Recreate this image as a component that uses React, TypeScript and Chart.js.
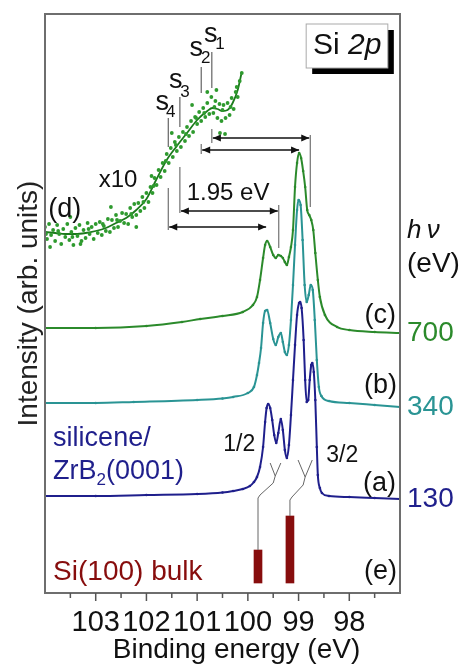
import React, { useEffect, useRef } from 'react';
import { Chart, registerables } from 'chart.js';

Chart.register(...registerables);

const FONT = '"Liberation Sans", Arial, Helvetica, sans-serif';

// ---------- data (binding energy in eV, intensity in arb. units) ----------
// (a) silicene/ZrB2, hv = 130 eV
const curveA: [number, number][] = [
  [104.0, 9.7], [103.0, 9.7], [102.0, 9.8], [101.0, 9.9], [100.5, 10.05], [100.29, 10.2],
  [100.1, 10.4], [99.96, 10.7], [99.88, 11.1], [99.82, 11.6], [99.76, 12.6], [99.7, 14.6],
  [99.66, 17.1], [99.63, 18.5], [99.6, 18.9], [99.56, 18.5], [99.52, 17.3], [99.48, 15.8],
  [99.44, 15.0], [99.4, 16.0], [99.35, 17.4], [99.31, 16.3], [99.27, 14.3], [99.23, 13.5],
  [99.19, 14.8], [99.15, 17.8], [99.11, 21.3], [99.07, 24.8], [99.03, 27.8], [98.99, 29.0],
  [98.97, 29.1], [98.94, 28.5], [98.9, 25.3], [98.87, 21.3], [98.84, 19.1], [98.81, 19.3],
  [98.78, 21.3], [98.75, 22.8], [98.73, 23.0], [98.7, 22.1], [98.67, 19.3], [98.64, 14.6],
  [98.62, 11.8], [98.58, 10.5], [98.54, 10.0], [98.4, 9.7], [98.0, 9.6], [97.5, 9.5], [97.0, 9.4],
];
// (b) hv = 340 eV
const curveB: [number, number][] = [
  [104.0, 19.0], [103.0, 19.0], [102.25, 19.1], [101.0, 19.3], [100.5, 19.45], [100.29, 19.6],
  [100.0, 20.0], [99.88, 20.6], [99.82, 21.8], [99.78, 23.0], [99.74, 24.5], [99.7, 27.0],
  [99.66, 28.2], [99.62, 28.3], [99.56, 27.0], [99.5, 25.4], [99.45, 24.8], [99.4, 25.6],
  [99.35, 26.0], [99.31, 25.1], [99.27, 24.1], [99.23, 23.8], [99.19, 24.8], [99.15, 27.3],
  [99.11, 30.8], [99.07, 34.8], [99.03, 38.3], [99.0, 39.3], [98.96, 38.8], [98.92, 35.3],
  [98.88, 30.8], [98.84, 29.1], [98.8, 29.8], [98.76, 30.8], [98.72, 30.3], [98.68, 27.3],
  [98.64, 23.3], [98.6, 20.6], [98.55, 19.7], [98.4, 19.2], [98.0, 19.0], [97.5, 18.8], [97.0, 18.6],
];
// (c) hv = 700 eV
const curveC: [number, number][] = [
  [104.0, 26.5], [103.0, 26.5], [102.0, 26.7], [101.3, 27.1], [100.94, 27.4], [100.5, 27.7],
  [100.1, 28.1], [99.9, 28.8], [99.82, 29.6], [99.76, 31.3], [99.7, 33.5], [99.66, 34.8],
  [99.62, 35.2], [99.56, 34.6], [99.5, 33.8], [99.45, 33.5], [99.4, 33.8], [99.35, 33.7],
  [99.31, 33.5], [99.27, 33.1], [99.23, 32.8], [99.19, 33.6], [99.15, 34.6], [99.11, 36.3],
  [99.07, 40.6], [99.03, 43.0], [98.99, 44.0], [98.95, 43.5], [98.91, 42.2], [98.87, 40.6],
  [98.83, 38.3], [98.79, 37.8], [98.75, 37.3], [98.71, 36.3], [98.67, 34.0], [98.62, 31.3],
  [98.58, 29.6], [98.48, 27.8], [98.24, 26.6], [98.0, 26.3], [97.5, 26.1], [97.0, 26.0],
];
// (d) x10 magnified high-binding-energy tail of (c): fitted line
const fitD: [number, number][] = [
  [104.0, 36.1], [103.8, 36.0], [103.6, 35.9], [103.4, 35.9], [103.2, 36.0], [103.0, 36.2],
  [102.8, 36.5], [102.6, 37.0], [102.4, 37.5], [102.2, 38.3], [102.0, 39.4], [101.8, 41.4],
  [101.6, 43.3], [101.4, 44.7], [101.2, 46.0], [101.0, 47.3], [100.8, 48.2], [100.7, 48.5],
  [100.6, 48.4], [100.5, 48.2], [100.4, 48.3], [100.3, 49.0], [100.2, 50.3], [100.12, 52.1],
];
// (d) measured points
const dotsD: [number, number][] = [
  [104.0, 36.6], [103.96, 35.4], [103.92, 36.9], [103.88, 35.8], [103.84, 36.3], [103.8, 35.2],
  [103.76, 36.8], [103.72, 35.9], [103.68, 34.9], [103.64, 36.4], [103.6, 35.6], [103.56, 36.9],
  [103.52, 35.3], [103.48, 36.1], [103.44, 34.8], [103.4, 36.5], [103.36, 35.7], [103.32, 36.8],
  [103.28, 35.2], [103.24, 36.3], [103.2, 35.5], [103.16, 37.0], [103.12, 35.9], [103.08, 36.6],
  [103.04, 35.4], [103.0, 36.9], [102.96, 36.0], [102.92, 37.1], [102.88, 35.8], [102.84, 36.7],
  [102.8, 36.2], [102.76, 37.4], [102.72, 36.1], [102.68, 37.3], [102.64, 36.5], [102.6, 37.8],
  [102.56, 36.6], [102.52, 37.2], [102.48, 38.0], [102.44, 37.0], [102.4, 37.9], [102.36, 36.9],
  [102.32, 38.5], [102.28, 37.6], [102.24, 38.9], [102.2, 37.8], [102.16, 39.0], [102.12, 38.2],
  [102.08, 39.6], [102.04, 38.5], [102.0, 40.0], [101.96, 39.1], [101.92, 40.6], [101.88, 40.0],
  [101.84, 41.5], [101.8, 40.8], [101.76, 42.3], [101.72, 41.6], [101.68, 43.0], [101.64, 42.2],
  [101.6, 43.9], [101.56, 43.0], [101.52, 44.5], [101.48, 43.6], [101.44, 45.1], [101.4, 44.2],
  [101.36, 45.6], [101.32, 44.6], [101.28, 46.1], [101.24, 45.2], [101.2, 46.6], [101.16, 45.7],
  [101.12, 47.2], [101.08, 46.1], [101.04, 47.6], [101.0, 46.9], [100.96, 48.1], [100.92, 47.2],
  [100.88, 48.5], [100.84, 47.6], [100.8, 49.0], [100.76, 47.9], [100.72, 49.6], [100.68, 48.0],
  [100.64, 49.2], [100.6, 47.5], [100.56, 48.9], [100.52, 47.2], [100.48, 48.8], [100.44, 47.5],
  [100.4, 49.0], [100.36, 47.8], [100.32, 49.5], [100.28, 48.4], [100.24, 50.1], [100.2, 49.6],
  [100.16, 51.2], [100.12, 52.0],
  [100.55, 46.0], [100.45, 45.9], [100.62, 50.3], [101.1, 48.8], [102.7, 38.6], [103.5, 37.6],
  [103.9, 34.6], [100.8, 50.1], [101.5, 46.0], [102.2, 36.6], [103.3, 34.9], [101.9, 41.7],
  [103.98, 35.9], [103.74, 36.2], [103.46, 35.6], [103.14, 36.4], [102.86, 36.9], [102.58, 37.3],
  [102.3, 37.9], [102.06, 39.1], [101.86, 40.7], [101.62, 43.2], [101.42, 44.8], [101.22, 45.9],
  [101.02, 47.5], [100.86, 48.0], [100.66, 48.6], [100.5, 48.3], [100.34, 48.6], [100.22, 50.6],
];
// (e) Si(100) bulk reference components: energy, top intensity
const bulkEnergies = [99.8, 99.17];
const bulkTops = [4.3, 7.7];
const bulkBase = 1.0;

const xTickLabels = [98, 99, 100, 101, 102, 103];
const photonEnergies = ['700', '340', '130'];

// ---------- annotation geometry (data units) ----------
const sMarks = [
  { n: '1', be: 100.71, lo: 50.5, hi: 54.1, sx: 100.73, sy: 55.8, nx: 100.55, ny: 54.9 },
  { n: '2', be: 100.92, lo: 50.0, hi: 52.6, sx: 101.02, sy: 54.4, nx: 100.83, ny: 53.5 },
  { n: '3', be: 101.34, lo: 46.6, hi: 49.6, sx: 101.42, sy: 51.2, nx: 101.24, ny: 50.1 },
  { n: '4', be: 101.57, lo: 44.6, hi: 47.5, sx: 101.69, sy: 49.0, nx: 101.52, ny: 48.1 },
];
const arrows = [
  { y: 45.5, from: 100.71, to: 98.77 },
  { y: 44.3, from: 100.92, to: 98.97 },
  { y: 38.2, from: 101.34, to: 99.39 },
  { y: 36.6, from: 101.57, to: 99.62 },
];
const guideLines = [
  [100.71, 45.0, 46.4], [98.77, 38.6, 45.8], [100.92, 43.9, 44.9],
  [101.34, 38.0, 42.6], [99.39, 34.5, 38.8], [101.57, 36.3, 40.5],
];
const connectors = [
  { armL: [99.56, 13.0], armR: [99.35, 13.0], path: [[99.46, 11.7], [99.5, 11.0], [99.76, 9.8], [99.8, 9.5], [99.8, 4.3]] },
  { armL: [99.01, 13.3], armR: [98.73, 13.3], path: [[98.87, 11.6], [98.91, 10.8], [99.13, 9.6], [99.17, 9.3], [99.17, 7.7]] },
];

const NAVY = '#1f1f8c';
const TEAL = '#2a9494';
const GREEN = '#2b8a2b';
const DOTGREEN = '#2e9a2e';
const DARKRED = '#870d0d';

const toXY = (arr: [number, number][]) => arr.map(([x, y]) => ({ x, y }));

function drawText(ctx: CanvasRenderingContext2D, s: string, x: number, y: number, size: number, color: string, align: CanvasTextAlign = 'center', style = '') {
  ctx.font = `${style} ${size}px ${FONT}`;
  ctx.fillStyle = color;
  ctx.textAlign = align;
  ctx.textBaseline = 'middle';
  ctx.fillText(s, x, y);
}

const annotationPlugin = {
  id: 'xpsAnnotations',
  afterDatasetsDraw(chart: any) {
    const { ctx, chartArea: a, scales } = chart;
    const X = (v: number) => scales.x.getPixelForValue(v);
    const Y = (v: number) => scales.y.getPixelForValue(v);
    ctx.save();

    // frame
    ctx.strokeStyle = '#6e6e6e';
    ctx.lineWidth = 2;
    ctx.strokeRect(a.left, a.top, a.right - a.left, a.bottom - a.top);

    // x ticks (major + minor, outside)
    ctx.strokeStyle = '#555';
    ctx.lineWidth = 1.5;
    for (let v = 97.5; v < 104; v += 0.5) {
      const major = Math.abs(v - Math.round(v)) < 1e-6;
      const xx = X(v);
      ctx.beginPath();
      ctx.moveTo(xx, a.bottom);
      ctx.lineTo(xx, a.bottom + (major ? 8 : 5));
      ctx.stroke();
    }

    // x title
    ctx.font = `28px ${FONT}`;
    ctx.fillStyle = '#111';
    ctx.textAlign = 'center';
    ctx.textBaseline = 'alphabetic';
    ctx.fillText('Binding energy (eV)', (a.left + a.right) / 2 + 14, a.bottom + 65);

    // s markers
    ctx.strokeStyle = '#444';
    ctx.lineWidth = 1;
    sMarks.forEach((m) => {
      ctx.beginPath();
      ctx.moveTo(X(m.be), Y(m.lo));
      ctx.lineTo(X(m.be), Y(m.hi));
      ctx.stroke();
      drawText(ctx, 's', X(m.sx), Y(m.sy), 27, '#111');
      drawText(ctx, m.n, X(m.nx), Y(m.ny), 17, '#111');
    });

    // guide lines
    ctx.strokeStyle = '#555';
    guideLines.forEach(([be, lo, hi]) => {
      ctx.beginPath();
      ctx.moveTo(X(be), Y(lo));
      ctx.lineTo(X(be), Y(hi));
      ctx.stroke();
    });

    // double-headed arrows
    ctx.strokeStyle = '#111';
    ctx.fillStyle = '#111';
    ctx.lineWidth = 1.3;
    arrows.forEach((ar) => {
      const x1 = X(ar.from);
      const x2 = X(ar.to);
      const yy = Y(ar.y);
      ctx.beginPath();
      ctx.moveTo(x1 + 1, yy);
      ctx.lineTo(x2 - 1, yy);
      ctx.stroke();
      const head = (tip: number, dir: number) => {
        ctx.beginPath();
        ctx.moveTo(tip, yy);
        ctx.lineTo(tip - dir * 8, yy - 3.5);
        ctx.lineTo(tip - dir * 8, yy + 3.5);
        ctx.closePath();
        ctx.fill();
      };
      head(x1 + 1, -1);
      head(x2 - 1, 1);
    });

    // connectors between doublet components and bulk bars
    ctx.strokeStyle = '#666';
    ctx.lineWidth = 1;
    connectors.forEach((c) => {
      const j = c.path[0];
      ctx.beginPath();
      ctx.moveTo(X(c.armL[0]), Y(c.armL[1]));
      ctx.lineTo(X(j[0]), Y(j[1]));
      ctx.lineTo(X(c.armR[0]), Y(c.armR[1]));
      ctx.moveTo(X(j[0]), Y(j[1]));
      c.path.slice(1).forEach(([be, v]) => ctx.lineTo(X(be), Y(v)));
      ctx.stroke();
    });

    // texts inside the plot
    drawText(ctx, '1.95 eV', X(100.39), Y(40.0), 24, '#111');
    drawText(ctx, 'x10', X(102.56), Y(41.3), 24, '#111');
    drawText(ctx, '(d)', X(103.61), Y(38.3), 27, '#111');
    drawText(ctx, '(c)', a.right - 4, Y(27.7), 27, '#111', 'right');
    drawText(ctx, '(b)', a.right - 3, Y(20.7), 27, '#111', 'right');
    drawText(ctx, '(a)', a.right - 4, Y(10.9), 27, '#111', 'right');
    drawText(ctx, '(e)', a.right - 3, Y(2.1), 27, '#111', 'right');
    drawText(ctx, '1/2', X(100.17), Y(14.8), 23, '#111');
    drawText(ctx, '3/2', X(98.14), Y(13.7), 23, '#111');

    const lx = X(103.84);
    drawText(ctx, 'silicene/', lx, Y(15.4), 27, NAVY, 'left');
    ctx.font = `27px ${FONT}`;
    const wZ = ctx.measureText('ZrB').width;
    drawText(ctx, 'ZrB', lx, Y(12.1), 27, NAVY, 'left');
    ctx.font = `17px ${FONT}`;
    const w2 = ctx.measureText('2').width;
    drawText(ctx, '2', lx + wZ, Y(12.1) + 8, 17, NAVY, 'left');
    drawText(ctx, '(0001)', lx + wZ + w2, Y(12.1), 27, NAVY, 'left');
    drawText(ctx, 'Si(100) bulk', lx, Y(2.1), 28, DARKRED, 'left');

    // Si 2p box
    const bx1 = X(98.85), bx2 = X(97.24), by1 = Y(56.9), by2 = Y(52.5);
    ctx.fillStyle = '#000';
    ctx.fillRect(bx1 + 6, by1 + 6, bx2 - bx1, by2 - by1);
    ctx.fillStyle = '#fff';
    ctx.fillRect(bx1, by1, bx2 - bx1, by2 - by1);
    ctx.strokeStyle = '#aaa';
    ctx.lineWidth = 1;
    ctx.strokeRect(bx1, by1, bx2 - bx1, by2 - by1);
    ctx.font = `30px ${FONT}`;
    const wSi = ctx.measureText('Si ').width;
    ctx.font = `italic 30px ${FONT}`;
    const w2p = ctx.measureText('2p').width;
    const tx = X(98.04) - (wSi + w2p) / 2;
    drawText(ctx, 'Si ', tx, Y(54.7), 30, '#111', 'left');
    drawText(ctx, '2p', tx + wSi, Y(54.7), 30, '#111', 'left', 'italic');

    // right-hand labels (photon energy)
    const rx = a.right + 7;
    drawText(ctx, 'h\u2009\u03bd', rx, Y(36.2), 26, '#111', 'left', 'italic');
    drawText(ctx, '(eV)', rx, Y(32.9), 28, '#111', 'left');
    const ends = [curveC[curveC.length - 1][1], curveB[curveB.length - 1][1], curveA[curveA.length - 1][1]];
    const cols = [GREEN, TEAL, NAVY];
    photonEnergies.forEach((t, i) => drawText(ctx, t, rx, Y(ends[i]), 28, cols[i], 'left'));

    ctx.restore();
  },
};

export default function App() {
  const ref = useRef<HTMLCanvasElement | null>(null);

  useEffect(() => {
    document.body.style.margin = '0';
    if (!ref.current) return;
    const lineDs = (data: [number, number][], color: string) => ({
      type: 'line' as const,
      data: toXY(data),
      borderColor: color,
      backgroundColor: color,
      borderWidth: 2,
      pointRadius: 1.3,
      pointBorderWidth: 0,
      pointBackgroundColor: color,
      cubicInterpolationMode: 'monotone' as const,
    });
    const chart = new Chart(ref.current, {
      type: 'line',
      data: {
        datasets: [
          {
            type: 'bar',
            data: bulkEnergies.map((x, i) => ({ x, y: [bulkBase, bulkTops[i]] })) as any,
            backgroundColor: DARKRED,
            barThickness: 8,
            grouped: false,
          } as any,
          {
            type: 'line',
            data: toXY(dotsD),
            showLine: false,
            pointRadius: 1.9,
            pointBorderWidth: 0,
            pointBackgroundColor: DOTGREEN,
          } as any,
          {
            type: 'line',
            data: toXY(fitD),
            borderColor: '#1c7a1c',
            borderWidth: 1.8,
            pointRadius: 0,
            cubicInterpolationMode: 'monotone',
          } as any,
          lineDs(curveC, GREEN),
          lineDs(curveB, TEAL),
          lineDs(curveA, NAVY),
        ],
      },
      options: {
        responsive: false,
        animation: false,
        layout: { padding: { top: 14, right: 62, left: 0, bottom: 0 } },
        plugins: { legend: { display: false }, tooltip: { enabled: false } },
        scales: {
          x: {
            type: 'linear',
            reverse: true,
            min: 97,
            max: 104,
            offset: false,
            grid: { display: false, drawTicks: false },
            border: { display: false },
            ticks: {
              stepSize: 1,
              autoSkip: false,
              maxRotation: 0,
              padding: 13,
              color: '#111',
              font: { family: FONT, size: 29 },
              callback: (v: any) => (xTickLabels.includes(Number(v)) ? String(v) : ''),
            },
            afterFit: (s: any) => {
              s.height = 73;
            },
          },
          y: {
            min: 0,
            max: 57.9,
            grid: { display: false, drawTicks: false },
            border: { display: false },
            ticks: { display: false },
            title: {
              display: true,
              text: 'Intensity (arb. units)',
              color: '#222',
              font: { family: FONT, size: 28 },
              padding: { top: 12, bottom: 0 },
            },
            afterFit: (s: any) => {
              s.width = 45;
            },
          },
        },
      } as any,
      plugins: [annotationPlugin],
    });
    return () => chart.destroy();
  }, []);

  return (
    <div style={{ width: 462, height: 666 }}>
      <canvas ref={ref} width={462} height={666} style={{ display: 'block' }} />
    </div>
  );
}
